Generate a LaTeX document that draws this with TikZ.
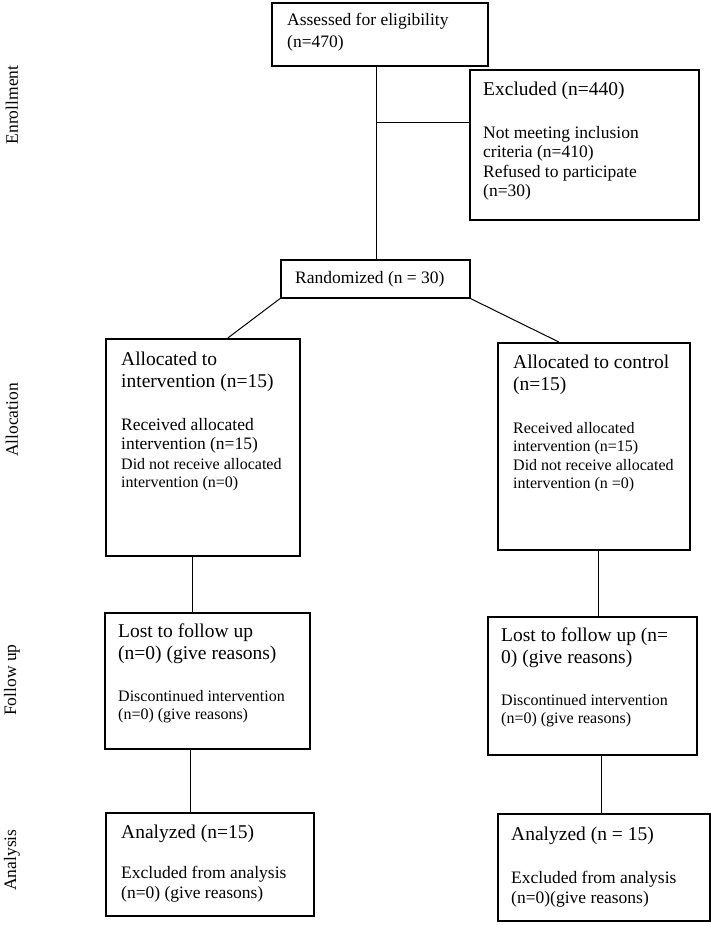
\documentclass[tikz,border=0pt]{standalone}
\usepackage{fontspec}
\setmainfont{Liberation Serif}

\begin{document}
\begin{tikzpicture}[
        x=1pt, y=-1pt,
        box/.style={draw, line width=1.6pt, anchor=north west, inner sep=0pt},
        toptext/.style={anchor=north west, align=left, inner sep=0pt, font=\fontsize{17.5}{22}\selectfont},
        hdtext/.style={anchor=north west, align=left, inner sep=0pt, font=\fontsize{19.5}{21.7}\selectfont},
        bdtext/.style={anchor=north west, align=left, inner sep=0pt, font=\fontsize{17.5}{19.5}\selectfont},
        smtext/.style={anchor=north west, align=left, inner sep=0pt, font=\fontsize{16}{18.5}\selectfont},
        phase/.style={rotate=90, inner sep=0pt, font=\fontsize{17.5}{20}\selectfont},
        line/.style={draw, line width=1pt}
    ]
    \useasboundingbox (0,0) rectangle (711,925);

    % --- phases ---
    \node[phase] (penrol) at (12,105) {Enrollment};
    \node[phase] (palloc) at (12,420) {Allocation};
    \node[phase] (pfollow) at (12,680) {Follow up};
    \node[phase] (panaly) at (12,860) {Analysis};

    % --- boxes ---
    \node[box, minimum width=216pt, minimum height=63pt] (assess) at (271,2) {};
    \node[box, minimum width=229pt, minimum height=150pt] (excl) at (469,69) {};
    \node[box, minimum width=189pt, minimum height=38pt] (rand) at (280,259) {};
    \node[box, minimum width=194pt, minimum height=217pt] (allocL) at (105,338) {};
    \node[box, minimum width=192pt, minimum height=207pt] (allocR) at (497,342) {};
    \node[box, minimum width=205pt, minimum height=136pt] (lostL) at (104,612) {};
    \node[box, minimum width=209pt, minimum height=138pt] (lostR) at (487,616) {};
    \node[box, minimum width=208pt, minimum height=103pt] (analL) at (105,812) {};
    \node[box, minimum width=212pt, minimum height=107pt] (analR) at (497,813) {};

    % --- texts ---
    \node[toptext] (assess-t) at ([shift={(16,11)}]assess.north west) {Assessed for eligibility\\(n=470)};
    \node[hdtext] (excl-h) at ([shift={(14,12.7)}]excl.north west) {Excluded (n=440)};
    \node[bdtext] (excl-b) at ([shift={(14,57)}]excl.north west) {Not meeting inclusion\\criteria (n=410)\\Refused to participate\\(n=30)};
    \node[toptext] (rand-t) at ([shift={(15,12)}]rand.north west) {Randomized (n = 30)};

    \node[hdtext] (allocL-h) at ([shift={(16,13.7)}]allocL.north west) {Allocated to\\intervention (n=15)};
    \node[bdtext] (allocL-b) at ([shift={(16,80)}]allocL.north west) {Received allocated\\intervention (n=15)};
    \node[smtext] (allocL-s) at ([shift={(16,120)}]allocL.north west) {Did not receive allocated\\intervention (n=0)};

    \node[hdtext] (allocR-h) at ([shift={(16,12.7)}]allocR.north west) {Allocated to control\\(n=15)};
    \node[smtext] (allocR-s) at ([shift={(16,80)}]allocR.north west) {Received allocated\\intervention (n=15)\\Did not receive allocated\\intervention (n =0)};

    \node[hdtext] (lostL-h) at ([shift={(14,11.7)}]lostL.north west) {Lost to follow up\\(n=0) (give reasons)};
    \node[smtext] (lostL-s) at ([shift={(14,78)}]lostL.north west) {Discontinued intervention\\(n=0) (give reasons)};

    \node[hdtext] (lostR-h) at ([shift={(14,11.7)}]lostR.north west) {Lost to follow up (n=\\0) (give reasons)};
    \node[smtext] (lostR-s) at ([shift={(14,78)}]lostR.north west) {Discontinued intervention\\(n=0) (give reasons)};

    \node[hdtext] (analL-h) at ([shift={(16,12.7)}]analL.north west) {Analyzed (n=15)};
    \node[bdtext] (analL-b) at ([shift={(16,54)}]analL.north west) {Excluded from analysis\\(n=0) (give reasons)};

    \node[hdtext] (analR-h) at ([shift={(14,13.7)}]analR.north west) {Analyzed (n = 15)};
    \node[bdtext] (analR-b) at ([shift={(14,58)}]analR.north west) {Excluded from analysis\\(n=0)(give reasons)};

    % --- connectors ---
    \draw[line] ([xshift=-3pt]assess.south) -- ([xshift=-3pt]assess.south |- rand.north);
    \coordinate (branch) at (376,123);
    \draw[line] (branch) -- (branch -| excl.west);
    \draw[line] (rand.south west) -- ([xshift=25pt]allocL.north);
    \draw[line] (rand.south east) -- ([xshift=-35pt]allocR.north);
    \draw[line] ([xshift=-10pt]allocL.south) -- ([xshift=-10pt]allocL.south |- lostL.north);
    \draw[line] ([xshift=5pt]allocR.south) -- ([xshift=5pt]allocR.south |- lostR.north);
    \draw[line] ([xshift=-17pt]lostL.south) -- ([xshift=-17pt]lostL.south |- analL.north);
    \draw[line] ([xshift=9pt]lostR.south) -- ([xshift=9pt]lostR.south |- analR.north);

\end{tikzpicture}
\end{document}
